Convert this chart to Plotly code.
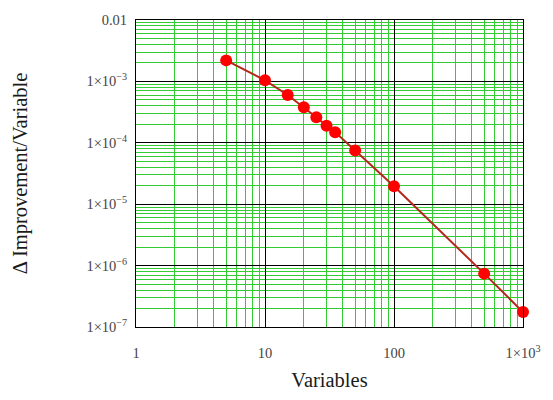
import plotly.graph_objects as go

# Improvement per variable as the number of variables grows
variables = [5, 10, 15, 20, 25, 30, 35, 50, 100, 500, 1000]
improvement = [2.2e-3, 1.04e-3, 6.0e-4, 3.8e-4, 2.6e-4, 1.9e-4, 1.49e-4, 7.5e-5, 1.96e-5, 7.4e-7, 1.75e-7]

x_tickvals = [1, 10, 100, 1000]
x_ticktext = ["1", "10", "100", "1×10<sup>3</sup>"]
y_tickvals = [1e-7, 1e-6, 1e-5, 1e-4, 1e-3, 1e-2]
y_ticktext = ["1×10<sup>−7</sup>", "1×10<sup>−6</sup>", "1×10<sup>−5</sup>",
              "1×10<sup>−4</sup>", "1×10<sup>−3</sup>", "0.01"]

x_minor = [d * 10 ** k for k in range(0, 3) for d in range(2, 10)]
y_minor = [d * 10.0 ** k for k in range(-7, -2) for d in range(2, 10)]

font_family = "Liberation Serif, Times New Roman, serif"
green = "#33cc33"

fig = go.Figure()
fig.add_trace(go.Scatter(
    x=variables, y=improvement, mode="lines+markers",
    line=dict(color="#b4281c", width=2),
    marker=dict(color="#ff0000", size=12, line=dict(width=0)),
    cliponaxis=False,
    showlegend=False,
))

fig.update_layout(
    width=553, height=400,
    margin=dict(l=136, r=22, t=14, b=72),
    paper_bgcolor="white", plot_bgcolor="white",
    font=dict(family=font_family, color="#444444", size=14.5),
    xaxis=dict(
        type="log", range=[0, 3],
        tickvals=x_tickvals, ticktext=x_ticktext,
        showgrid=True, gridcolor="#000000", gridwidth=1,
        minor=dict(tickvals=x_minor, showgrid=True, gridcolor=green, gridwidth=1.3),
        showline=True, linecolor="#000000", linewidth=1, mirror=True,
        ticks="", ticklabelstandoff=13, zeroline=False,
        title=dict(text="Variables", font=dict(size=20.5, color="#1a1a1a"), standoff=12),
    ),
    yaxis=dict(
        type="log", range=[-7, -2],
        tickvals=y_tickvals, ticktext=y_ticktext,
        showgrid=True, gridcolor="#000000", gridwidth=1,
        minor=dict(tickvals=y_minor, showgrid=True, gridcolor=green, gridwidth=1.3),
        showline=True, linecolor="#000000", linewidth=1, mirror=True,
        ticks="", ticklabelstandoff=5, zeroline=False,
        title=dict(text="Δ Improvement/Variable", font=dict(size=20.5, color="#1a1a1a"), standoff=53),
    ),
)

fig.write_html("out.html")
